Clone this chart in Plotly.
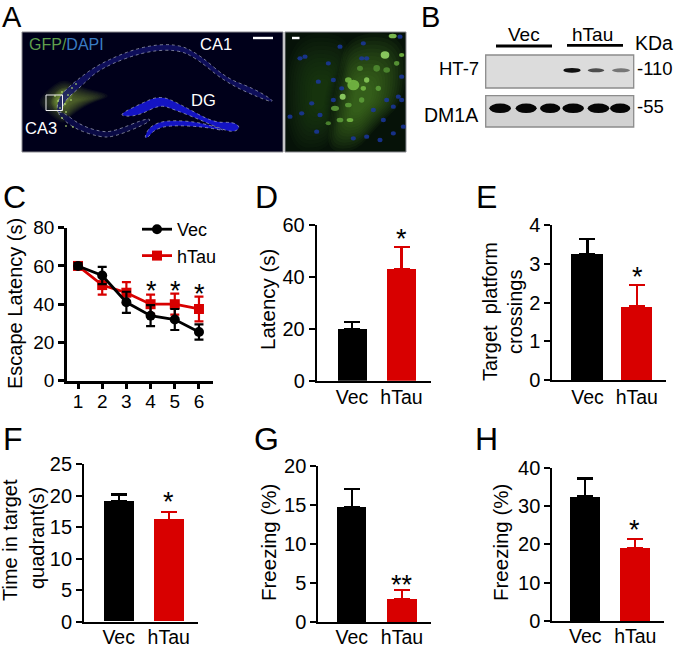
import plotly.graph_objects as go

W, H = 677, 647
BLACK = "#000000"
RED = "#d80000"
FONT = "Liberation Sans, Arial, sans-serif"

# ---- data ----
groups = ["Vec", "hTau"]
days = [1, 2, 3, 4, 5, 6]
vec_latency = [60, 55, 41, 34, 32, 25.5]
vec_latency_err = [1.5, 4.5, 5.5, 5.5, 5.5, 4]
htau_latency = [60, 50, 46, 40, 40, 37.5]
htau_latency_err = [1.5, 5, 5.5, 5, 5.5, 6.5]
d_values = [20, 43]
d_errors = [2.7, 8.5]
e_values = [3.25, 1.9]
e_errors = [0.38, 0.55]
f_values = [19.2, 16.2]
f_errors = [1.0, 1.2]
g_values = [14.8, 3.0]
g_errors = [2.3, 1.1]
h_values = [32.5, 19.0]
h_errors = [4.7, 2.5]


def X(p):
    return p / W


def Y(p):
    return 1 - p / H


fig = go.Figure()
shapes, annotations = [], []


def text(x, y, s, size=18.5, color=BLACK, anchor="center", angle=0):
    annotations.append(dict(
        xref="paper", yref="paper", x=X(x), y=Y(y), text=s, showarrow=False,
        xanchor=anchor, yanchor="middle", textangle=angle,
        font=dict(family=FONT, size=size, color=color), borderpad=0, borderwidth=0,
    ))


def rect(x0, y0, x1, y1, fill=None, line=None, lw=1, opacity=1):
    shapes.append(dict(type="rect", xref="paper", yref="paper", x0=X(x0), x1=X(x1), y0=Y(y0), y1=Y(y1),
                       fillcolor=fill or "rgba(0,0,0,0)", opacity=opacity,
                       line=dict(color=line or "rgba(0,0,0,0)", width=lw if line else 0)))


def oval(cx, cy, rx, ry, fill, opacity=1):
    shapes.append(dict(type="circle", xref="paper", yref="paper", x0=X(cx - rx), x1=X(cx + rx),
                       y0=Y(cy - ry), y1=Y(cy + ry), fillcolor=fill, opacity=opacity, line=dict(width=0)))


def seg(x0, y0, x1, y1, color=BLACK, lw=3):
    shapes.append(dict(type="line", xref="paper", yref="paper", x0=X(x0), x1=X(x1), y0=Y(y0), y1=Y(y1),
                       line=dict(color=color, width=lw)))


def smooth(points, closed=True, fill=None, line=None, lw=0, dash="solid", opacity=1, scale=3.0):
    pts = [(x / scale, y / scale) for x, y in points]
    n = len(pts)
    f = lambda p: f"{X(p[0]):.5f},{Y(p[1]):.5f}"
    mid = lambda a, b: ((a[0] + b[0]) / 2, (a[1] + b[1]) / 2)
    d = "M" + f(mid(pts[-1], pts[0]))
    for i in range(n):
        d += " Q" + f(pts[i]) + " " + f(mid(pts[i], pts[(i + 1) % n]))
    d += " Z"
    shapes.append(dict(type="path", xref="paper", yref="paper", path=d,
                       fillcolor=fill or "rgba(0,0,0,0)", opacity=opacity,
                       line=dict(color=line or "rgba(0,0,0,0)", width=lw if line else 0, dash=dash)))


def soft(points, fill, opacity, steps=6):
    # stacked, shrinking copies give the blob a blurred edge
    cx = sum(p[0] for p in points) / len(points)
    cy = sum(p[1] for p in points) / len(points)
    for i in range(steps):
        s = 1 - i * 0.8 / steps
        smooth([(cx + (x - cx) * s, cy + (y - cy) * s) for x, y in points], fill=fill, opacity=opacity)


# ---- panel A: micrographs (illustration) ----
rect(22, 32, 283, 152, fill="#00001a", line="#8a8a90", lw=1)

# green glow around CA3
soft([(110, 310), (140, 270), (190, 235), (240, 262), (345, 285), (270, 310), (215, 345), (190, 375), (150, 345)],
     "#7fa038", .07, 13)
soft([(150, 300), (175, 265), (215, 260), (225, 285), (195, 320), (180, 345), (160, 330)], "#a8d050", .09, 8)

# CA1 / CA3 pyramidal layer
ca1 = [(170, 340), (175, 290), (230, 240), (300, 190), (420, 140), (530, 130), (600, 165), (680, 235),
       (760, 265), (822, 302), (808, 306), (680, 250), (590, 175), (530, 148), (430, 155), (300, 205),
       (240, 262), (195, 300), (185, 335)]
smooth(ca1, fill="#12126a", opacity=.8)
smooth(ca1, line="#c8ccd8", lw=.6, dash="dot")
ca3 = [(170, 340), (220, 385), (300, 412), (345, 410), (452, 366), (446, 352), (340, 395), (300, 395),
       (240, 375), (188, 335)]
smooth(ca3, fill="#0e0e58", opacity=.7)
smooth(ca3, line="#c8ccd8", lw=.6, dash="dot")

# dentate gyrus
dg_up = [(360, 342), (420, 312), (480, 286), (540, 312), (640, 368), (700, 366), (722, 382), (700, 398),
         (650, 382), (590, 355), (520, 328), (480, 314), (420, 345), (375, 350)]
dg_low = [(433, 412), (450, 378), (500, 360), (600, 366), (690, 396), (610, 380), (510, 376), (465, 388), (442, 414)]
for p in (dg_up, dg_low):
    smooth(p, fill="#1414c4")
    smooth(p, line="#c8ccd8", lw=.6, dash="dot")

# bright CA3 speckles
for sx, sy in [(62, 92), (68, 95), (58, 101), (65, 104), (72, 88), (60, 108), (66, 112), (76, 84), (62, 118),
               (71, 100), (55, 96), (66, 126), (73, 127)]:
    oval(sx, sy, 1.0, 1.0, "#b6e070", .7)

rect(46, 95, 62.5, 110.5, line="#f0f0f0", lw=1)
rect(253, 36.8, 273, 39.2, fill="#ffffff")

# right micrograph: fibres and cells
rect(285, 32, 406, 152, fill="#061208", line="#8a8a90", lw=1)
soft([(856, 100), (1060, 100), (1020, 240), (1000, 350), (990, 455), (856, 455)], "#23501a", .08, 12)
soft([(1040, 100), (1218, 100), (1218, 300), (1130, 380), (1070, 455), (980, 455), (990, 350), (1010, 240)],
     "#4f8e26", .07, 14)
nuclei = [(915, 170), (955, 245), (1000, 240), (905, 340), (950, 395), (1100, 410), (1060, 415), (1020, 140),
          (1085, 175), (1200, 110), (1205, 230), (1180, 320), (1150, 360), (1100, 175), (1025, 265), (900, 175),
          (935, 310), (1000, 300), (1160, 300), (1195, 290), (960, 345), (1180, 400), (1140, 420), (1090, 130),
          (1210, 380), (1205, 300), (985, 190), (870, 350), (1120, 330)]
for nx, ny in nuclei:
    oval(nx / 3, ny / 3, 2.6, 2.2, "#1a38a8", .8)
cells = [(1178, 108, 12, 7, "#86c858"), (1155, 165, 13, 11, "#94d466"), (1100, 240, 8, 8, "#86c858"),
         (1060, 255, 18, 16, "#74b844"), (1028, 290, 9, 9, "#94d466"), (1090, 265, 8, 7, "#74b844"),
         (1135, 265, 8, 8, "#5c9c38"), (1045, 315, 10, 7, "#5c9c38"), (1005, 325, 12, 8, "#5c9c38"),
         (1020, 360, 10, 7, "#5c9c38"), (1050, 360, 10, 6, "#74b844"), (1130, 205, 10, 10, "#4f8a30"),
         (1190, 190, 8, 7, "#5c9c38"), (1205, 165, 8, 6, "#74b844"), (1160, 210, 10, 8, "#4f8a30"),
         (1080, 205, 9, 8, "#4f8a30"), (1045, 240, 10, 8, "#74b844"), (1085, 300, 8, 8, "#5c9c38"),
         (985, 370, 8, 6, "#4f8a30")]
for cx, cy, rx, ry, c in cells:
    oval(cx / 3, cy / 3, rx / 3, ry / 3, c, .9)
rect(292, 36.8, 299.5, 39.2, fill="#ffffff")

text(29, 44.5, '<span style="color:#5f9f4c">GFP/</span><span style="color:#3a7cc4">DAPI</span>', 16, anchor="left")
text(216, 44, "CA1", 16.5, "#ffffff")
text(203, 100, "DG", 16.5, "#ffffff")
text(41, 128, "CA3", 16.5, "#ffffff")

# ---- panel B: blots (illustration) ----
rect(485.7, 55, 633.7, 88, fill="#dcdcdc", line="#8c8c8c", lw=1.3)
rect(485.7, 95.7, 633.7, 127, fill="#d2d2d2", line="#8c8c8c", lw=1.3)
for a, b, op, hh in [(430, 482, 1, 2.4), (503, 553, .7, 2.0), (576, 630, .5, 2.0)]:
    oval(420 + (a + b) / 6, 70.3, (b - a) / 6, hh, "#101010", op)
for a, b in [(208, 273), (287, 350), (360, 421), (427, 492), (503, 568), (570, 631)]:
    oval(420 + (a + b) / 6, 108.3, (b - a) / 6, 4.8, "#060606")
seg(496, 46, 552, 46, BLACK, 2.8)
seg(567, 45.3, 623, 45.3, BLACK, 2.8)
text(523.5, 34, "Vec", 19)
text(592, 34, "hTau", 19)
text(653.5, 43, "KDa", 19.5)
text(637, 69, "-110", 18.5, anchor="left")
text(637, 107, "-55", 18.5, anchor="left")
text(479, 68, "HT-7", 18.5, anchor="right")
text(478, 115, "DM1A", 19.5, anchor="right")

# ---- panel letters ----
for letter, lx, ly, ls in [("A", 2, 17, 29), ("B", 421, 17, 29), ("C", 3, 197, 32), ("D", 255, 197, 32),
                           ("E", 476, 197, 32), ("F", 3, 439, 32), ("G", 254, 439, 32), ("H", 475, 439, 32)]:
    text(lx, ly, letter, ls, anchor="left")

layout = dict(
    width=W, height=H, margin=dict(l=0, r=0, t=0, b=0, autoexpand=False),
    paper_bgcolor="#ffffff", plot_bgcolor="rgba(0,0,0,0)",
    showlegend=True, bargap=0, barmode="overlay",
    legend=dict(x=X(137), y=Y(211), xanchor="left", yanchor="top", bgcolor="rgba(0,0,0,0)",
                traceorder="reversed", font=dict(family=FONT, size=18, color=BLACK), itemwidth=30,
                tracegroupgap=0),
)


def axes(i, left, right, y0, y1, xrange, yrange, yticks, xvals, xtext, lw, xticks=False, size=20, standoff=-2):
    sfx = "" if i == 1 else str(i)
    layout["xaxis" + sfx] = dict(
        domain=[X(left), X(right)], range=xrange, anchor="y" + sfx, showgrid=False, zeroline=False,
        showline=True, linecolor=BLACK, linewidth=lw, tickmode="array", tickvals=xvals, ticktext=xtext,
        ticks="outside" if xticks else "", ticklen=5, tickwidth=lw, tickcolor=BLACK,
        ticklabelstandoff=standoff,
        tickfont=dict(family=FONT, size=19.5 if not xticks else 19, color=BLACK),
    )
    layout["yaxis" + sfx] = dict(
        domain=[Y(y0), Y(y1)], range=yrange, anchor="x" + sfx, showgrid=False, zeroline=False,
        showline=True, linecolor=BLACK, linewidth=lw, tickmode="array", tickvals=yticks,
        ticks="outside", ticklen=6, tickwidth=lw, tickcolor=BLACK,
        tickfont=dict(family=FONT, size=size, color=BLACK),
    )


# ---- panel C ----
axes(1, 67, 213, 380.7, 227.7, [0.545, 6.58], [0, 80], [0, 20, 40, 60, 80], days, [str(d) for d in days], 2.6,
     True, 19, -3)
for name, vals, errs, color, sym in [("hTau", htau_latency, htau_latency_err, RED, "square"),
                                     ("Vec", vec_latency, vec_latency_err, BLACK, "circle")]:
    fig.add_trace(go.Scatter(
        x=days, y=vals, name=name, mode="lines+markers", xaxis="x", yaxis="y", cliponaxis=False,
        line=dict(color=color, width=2.8), marker=dict(color=color, size=10, symbol=sym),
        error_y=dict(type="data", array=errs, color=color, thickness=2.2, width=4.5),
    ))


# ---- bar panels ----
def bars(i, left, right, y0, y1, c1, c2, w, vals, errs, ymax, ticks, cap, standoff=-2):
    unit = c2 - c1
    xr = [-(c1 - left) / unit, 1 + (right - c2) / unit]
    axes(i, left, right, y0, y1, xr, [0, ymax], ticks, [0, 1], groups, 1.9, standoff=standoff)
    fig.add_trace(go.Bar(
        x=[0], y=vals[:1], width=w / unit, xaxis=f"x{i}", yaxis=f"y{i}", showlegend=False,
        marker=dict(color=BLACK, line=dict(width=0)),
        error_y=dict(type="data", symmetric=False, array=errs[:1], arrayminus=[0],
                     color=BLACK, thickness=2.2, width=cap),
    ))
    fig.add_trace(go.Bar(
        x=[1], y=vals[1:], width=w / unit, xaxis=f"x{i}", yaxis=f"y{i}", showlegend=False,
        marker=dict(color=RED, line=dict(width=0)),
        error_y=dict(type="data", symmetric=False, array=errs[1:], arrayminus=[0],
                     color=RED, thickness=2.2, width=cap),
    ))


bars(2, 316.7, 430.7, 380.7, 225, 352, 401.5, 29.3, d_values, d_errors, 60, [0, 20, 40, 60], 8)
bars(3, 552.3, 666, 380.3, 225, 587.5, 636.8, 31.6, e_values, e_errors, 4, [0, 1, 2, 3, 4], 8)
bars(4, 84, 198, 621.7, 464.3, 118.7, 168.7, 30, f_values, f_errors, 25, [0, 5, 10, 15, 20, 25], 8, -3)
bars(5, 318.3, 431, 622.3, 466.3, 351.8, 402, 29.7, g_values, g_errors, 20, [0, 5, 10, 15, 20], 8, -4)
bars(6, 552.3, 664, 621, 467.7, 585.3, 635.3, 29.3, h_values, h_errors, 40, [0, 10, 20, 30, 40], 8, -3)

# ---- axis titles ----
text(15, 304, "Escape Latency (s)", 20, angle=-90)
text(268, 300, "Latency (s)", 20.5, angle=-90)
text(490, 312, "Target&nbsp;&nbsp;platform", 20, angle=-90)
text(515, 312, "crossings", 20, angle=-90)
text(10, 540, "Time in target", 20, angle=-90)
text(37, 538, "quadrant(s)", 20, angle=-90)
text(268, 543, "Freezing (%)", 20.5, angle=-90)
text(500, 543, "Freezing (%)", 20.5, angle=-90)

# ---- significance stars ----
for sx, sy, s in [(151, 287, "*"), (175.5, 287, "*"), (199.5, 290, "*"), (401, 235, "*"), (637, 273, "*"),
                  (168.5, 498, "*"), (402, 581, "**"), (634.5, 526, "*")]:
    text(sx, sy + 4, s, 27)

layout["shapes"] = shapes
layout["annotations"] = annotations
fig.update_layout(**layout)
fig.write_html("out.html", post_script="document.body.style.margin='0';", config={"displayModeBar": False})
